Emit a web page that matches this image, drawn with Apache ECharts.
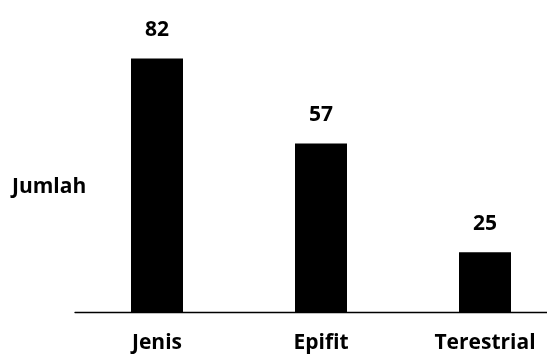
<!DOCTYPE html>
<html>
<head>
<meta charset="utf-8">
<script src="https://cdn.jsdelivr.net/npm/echarts@6/dist/echarts.min.js"></script>
<style>
  html, body { margin: 0; padding: 0; background: #fff; }
  #chart { width: 547px; height: 358px; }
</style>
</head>
<body>
<div id="chart"></div>
<script>
// Category names along the bottom
const categories = ['Jenis', 'Epifit', 'Terestrial'];
// Counts for each category
const counts = [82, 57, 25];
// Axis title shown to the left
const axisTitle = 'Jumlah';

const FONT = '"Open Sans", "Noto Sans", sans-serif';

const chart = echarts.init(document.getElementById('chart'), null, { renderer: 'canvas' });
chart.setOption({
  animation: false,
  backgroundColor: '#ffffff',
  grid: {
    left: 75,
    right: -20,
    top: 4,
    bottom: 45.5,
    containLabel: false,
    outerBoundsMode: 'none'
  },
  xAxis: {
    type: 'category',
    data: categories,
    axisLine: { show: true, lineStyle: { color: '#000', width: 1.3 } },
    axisTick: { show: false },
    axisLabel: {
      margin: 20,
      color: '#000',
      fontFamily: FONT,
      fontWeight: 'bold',
      fontSize: 21
    }
  },
  yAxis: {
    type: 'value',
    min: 7.3,
    max: 98,
    show: false,
    splitLine: { show: false }
  },
  series: [{
    type: 'bar',
    data: counts,
    barWidth: 52,
    itemStyle: { color: '#000' },
    label: {
      show: true,
      position: 'top',
      distance: 18,
      color: '#000',
      fontFamily: FONT,
      fontWeight: 'bold',
      fontSize: 21
    }
  }],
  graphic: [{
    type: 'text',
    left: 12,
    top: 177,
    style: {
      text: axisTitle,
      fill: '#000',
      font: 'bold 21px ' + FONT
    }
  }]
});
</script>
</body>
</html>
